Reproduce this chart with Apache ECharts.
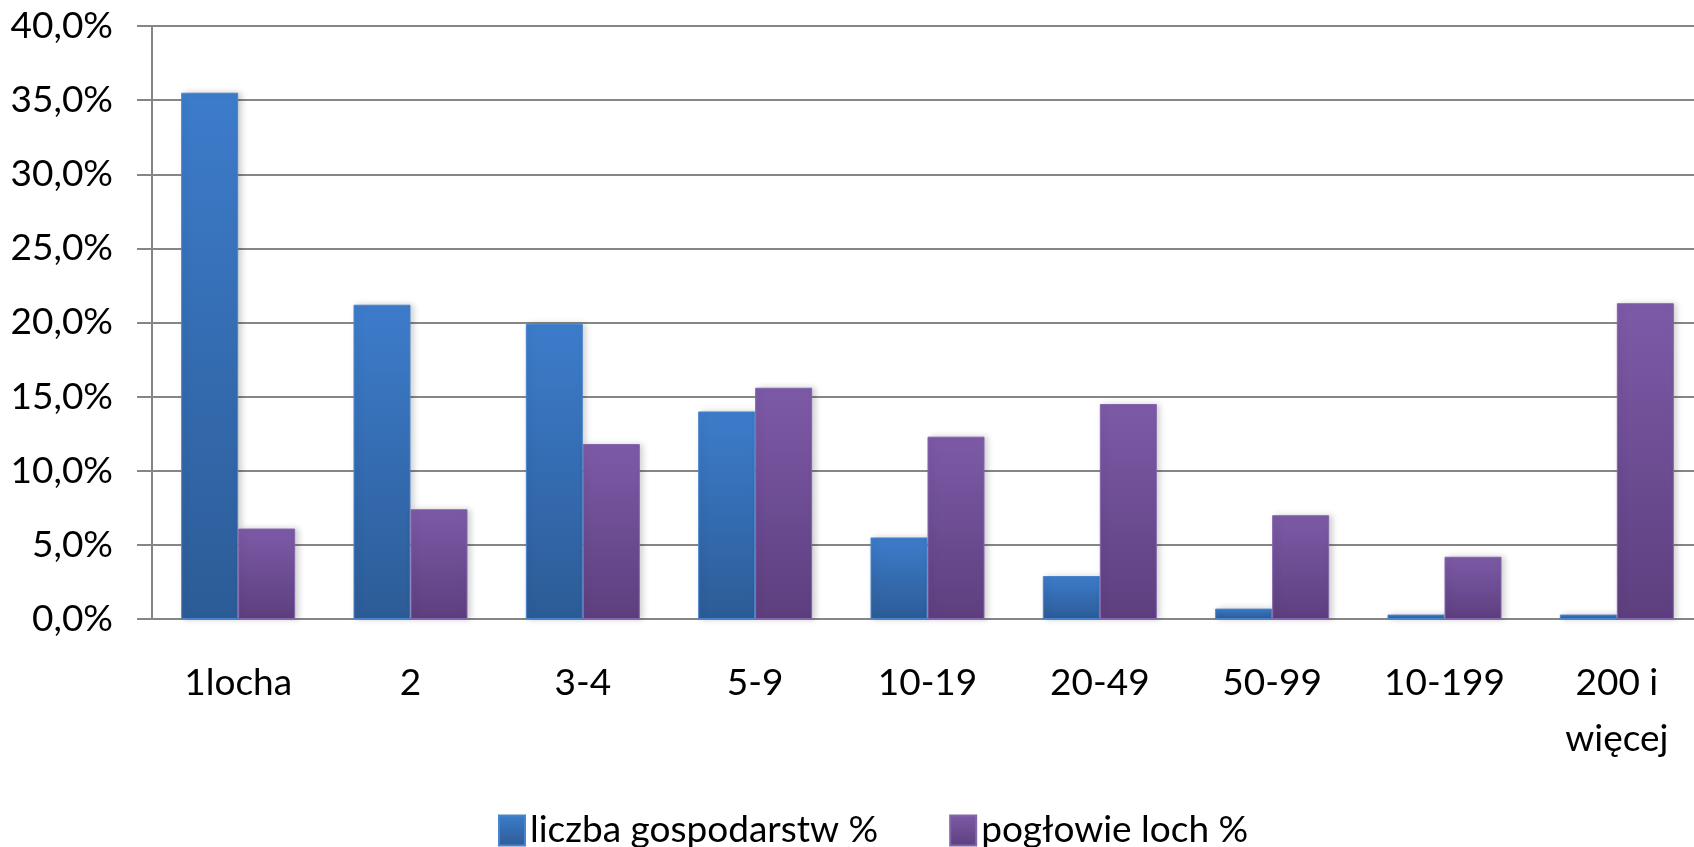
<!DOCTYPE html>
<html>
<head>
<meta charset="utf-8">
<title>pogłowie loch</title>
<script src="https://cdn.jsdelivr.net/npm/echarts@6/dist/echarts.min.js"></script>
<style>
  html, body { margin: 0; padding: 0; background: #fff; }
  #main { width: 1694px; height: 847px; }
</style>
</head>
<body>
<div id="main"></div>
<script type="text/javascript">
// dane (w %)
var categories = ['1locha', '2', '3-4', '5-9', '10-19', '20-49', '50-99', '10-199', '200 i\nwięcej'];
var gospodarstwa = [35.5, 21.2, 19.9, 14.0, 5.5, 2.9, 0.7, 0.3, 0.3];
var loch = [6.1, 7.4, 11.8, 15.6, 12.3, 14.5, 7.0, 4.2, 21.3];
var seriesNames = ['liczba gospodarstw %', 'pogłowie loch %'];

var chart = echarts.init(document.getElementById('main'));
var font = 'Lato';

function grad(top, bottom) {
  return new echarts.graphic.LinearGradient(0, 0, 0, 1, [
    { offset: 0, color: top },
    { offset: 1, color: bottom }
  ]);
}

var option = {
  backgroundColor: '#ffffff',
  animation: false,
  // the plot runs a bit past the right edge of the picture
  grid: { left: 152, top: 26, width: 1551, height: 593, outerBoundsMode: 'none' },
  legend: {
    left: 493,
    top: 807,
    itemWidth: 26,
    itemHeight: 30,
    itemGap: 71,
    icon: 'rect',
    textStyle: { fontFamily: font, fontSize: 37, color: '#000' },
    data: seriesNames
  },
  xAxis: {
    type: 'category',
    data: categories,
    axisLine: { lineStyle: { color: '#868686', width: 2 } },
    axisTick: { length: 12, lineStyle: { color: '#868686', width: 2 } },
    axisLabel: { fontFamily: font, fontSize: 37, color: '#000', margin: 36, lineHeight: 56 }
  },
  yAxis: {
    type: 'value',
    min: 0,
    max: 40,
    interval: 5,
    axisLine: { show: true, lineStyle: { color: '#868686', width: 2 } },
    axisTick: { show: true, length: 15, lineStyle: { color: '#868686', width: 2 } },
    splitLine: { lineStyle: { color: '#868686', width: 2 } },
    axisLabel: {
      fontFamily: font, fontSize: 37, color: '#000', margin: 39,
      formatter: function (v) { return v.toFixed(1).replace('.', ',') + '%'; }
    }
  },
  series: [
    {
      name: seriesNames[0],
      type: 'bar',
      data: gospodarstwa,
      barWidth: 57,
      barGap: '0%',
      itemStyle: {
        color: grad('#3d7ccb', '#2c5c97'),
        borderColor: '#4a84cc',
        borderWidth: 1,
        shadowBlur: 6,
        shadowOffsetX: 3,
        shadowColor: 'rgba(0,0,0,0.18)'
      }
    },
    {
      name: seriesNames[1],
      type: 'bar',
      data: loch,
      barWidth: 57,
      barGap: '0%',
      itemStyle: {
        color: grad('#7d5aa7', '#5d3f7f'),
        borderColor: '#8464ac',
        borderWidth: 1,
        shadowBlur: 6,
        shadowOffsetX: 3,
        shadowColor: 'rgba(0,0,0,0.18)'
      }
    }
  ]
};

chart.setOption(option);
</script>
</body>
</html>
